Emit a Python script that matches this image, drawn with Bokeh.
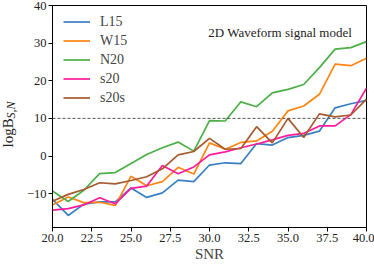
from bokeh.plotting import figure
from bokeh.models import Span, Label, FixedTicker, Range1d, Legend, LegendItem, Title
from bokeh.embed import file_html
from bokeh.resources import INLINE

snr = [20, 21, 22, 23, 24, 25, 26, 27, 28, 29, 30, 31, 32, 33, 34, 35, 36, 37, 38, 39, 40]
L15 = [-11.5, -15.8, -12.8, -12.2, -12.2, -8.5, -11.0, -9.8, -6.4, -6.8, -2.4, -1.8, -2.0, 3.3, 2.9, 4.9, 5.5, 6.6, 12.8, 13.9, 14.8]
W15 = [-13.0, -10.9, -12.4, -12.3, -13.1, -5.4, -7.9, -6.8, -3.0, -4.8, 3.5, 1.8, 3.6, 4.0, 6.6, 12.0, 13.3, 16.4, 24.4, 24.0, 26.0]
N20 = [-9.3, -12.1, -9.1, -4.7, -4.4, -2.0, 0.4, 2.2, 3.7, 1.3, 9.4, 9.3, 14.4, 13.1, 16.8, 17.7, 19.0, 23.5, 28.4, 28.8, 30.4]
s20 = [-14.4, -14.0, -13.0, -11.1, -12.7, -8.6, -8.0, -2.5, -4.7, -2.9, 0.3, 1.1, 2.2, 3.2, 4.3, 5.5, 6.0, 8.0, 8.0, 11.0, 18.0]
s20s = [-12.0, -10.2, -8.9, -7.1, -7.4, -6.5, -5.5, -3.4, 0.3, 1.2, 4.7, 1.8, 2.0, 7.8, 3.5, 10.0, 4.9, 11.2, 10.4, 10.9, 15.1]

series_names = ["L15", "W15", "N20", "s20", "s20s"]
series_vals = [L15, W15, N20, s20, s20s]
colors = ["#3a7fc1", "#ff8514", "#4cb046", "#ff1a9c", "#a65a2e"]

threshold = 10
x_ticks = [20.0, 22.5, 25.0, 27.5, 30.0, 32.5, 35.0, 37.5, 40.0]
y_ticks = [-10, 0, 10, 20, 30, 40]

FONT = "Liberation Serif"

p = figure(width=374, height=267, output_backend="svg", toolbar_location=None,
           x_range=Range1d(20, 40), y_range=Range1d(-19, 40),
           min_border_left=52, min_border_right=8, min_border_top=5, min_border_bottom=40)
p.grid.visible = False
p.background_fill_color = "white"
p.outline_line_color = "black"
p.outline_line_width = 1
p.outline_line_alpha = 1

for ax in (p.xaxis[0], p.yaxis[0]):
    ax.major_label_text_font = FONT
    ax.major_label_text_font_size = "12.5px"
    ax.major_label_text_color = "#222222"
    ax.axis_label_text_font = FONT
    ax.axis_label_text_font_style = "normal"
    ax.axis_line_color = "black"
    ax.major_tick_line_color = "black"
    ax.major_tick_out = 4
    ax.major_tick_in = 0
    ax.minor_tick_line_color = None

p.xaxis.ticker = FixedTicker(ticks=x_ticks)
p.xaxis.major_label_overrides = {t: f"{t:.1f}" for t in x_ticks}
p.yaxis.ticker = FixedTicker(ticks=y_ticks)
p.yaxis.major_label_overrides = {t: (str(t).replace("-", "\u2212")) for t in y_ticks}
p.xaxis.axis_label = "SNR"
p.xaxis.axis_label_text_font_size = "15px"
p.xaxis.axis_label_standoff = 1
p.xaxis.major_label_standoff = 2
p.yaxis.major_label_standoff = 2

p.add_layout(Span(location=threshold, dimension="width", line_color="#555555",
                  line_dash="3 2", line_width=1))

items = []
for name, vals, c in zip(series_names, series_vals, colors):
    r = p.line(snr, vals, line_color=c, line_width=1.7)
    items.append(LegendItem(label=name, renderers=[r]))

legend = Legend(items=items, location=(11, 120), margin=0, padding=0, spacing=0,
                glyph_height=19, glyph_width=27, label_standoff=10,
                label_text_font=FONT, label_text_font_size="14px",
                background_fill_alpha=0, border_line_color=None)
p.add_layout(legend)

p.add_layout(Label(x=34.5, y=32.7, text="2D Waveform signal model", text_font=FONT,
                   text_font_size="13px", text_align="center", text_baseline="middle",
                   text_color="#222222"))

# y axis label "logB" with subscript "S,N", as left-side titles (a blank spacer first)
t_gap = Title(text=" ", align="left", offset=0, standoff=0,
              text_font=FONT, text_font_size="8px", text_color="#222222")
t_sub = Title(text="S,N", align="left", offset=109, standoff=0,
              text_font=FONT, text_font_size="12px", text_font_style="italic",
              text_color="#222222")
t_main = Title(text="logB", align="left", offset=80, standoff=0,
               text_font=FONT, text_font_size="15px", text_font_style="normal",
               text_color="#222222")
try:
    t_sub.standoff = -10
    t_main.standoff = -18
except Exception:
    pass
p.add_layout(t_gap, "left")
p.add_layout(t_sub, "left")
p.add_layout(t_main, "left")

open("out.html", "w").write(file_html(p, INLINE))
